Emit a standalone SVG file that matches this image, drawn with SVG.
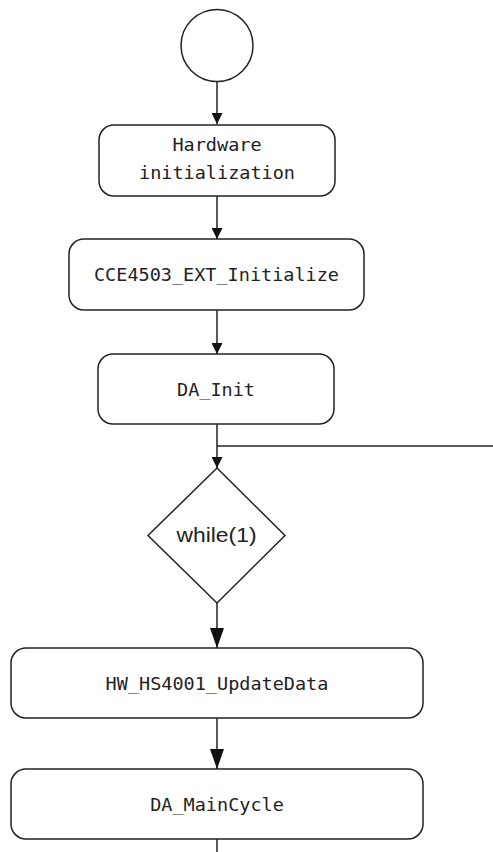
<svg xmlns="http://www.w3.org/2000/svg" width="493" height="852" viewBox="0 0 493 852">
<defs>
<style>
.box{fill:#fff;stroke:#222;stroke-width:1.5}
.ln{fill:none;stroke:#222;stroke-width:1.5}
.mono{font-family:"DejaVu Sans Mono","Liberation Mono",monospace;font-size:18.5px;fill:#222;text-anchor:middle}
.sans{font-family:"Liberation Sans","Noto Sans",sans-serif;font-size:20px;fill:#222;text-anchor:middle}
</style>
<marker id="a1" markerWidth="12" markerHeight="11" refX="12" refY="6" orient="auto" markerUnits="userSpaceOnUse" viewBox="0 0 12 12"><path d="M0,0 L12,6 L0,12 Z" fill="#111"/></marker>
<marker id="a2" markerWidth="20" markerHeight="14" refX="20" refY="7" orient="auto" markerUnits="userSpaceOnUse" viewBox="0 0 20 14"><path d="M0,0 L20,7 L0,14 Z" fill="#111"/></marker>
</defs>
<rect width="493" height="852" fill="#fff"/>
<g id="connectors">
<line class="ln" x1="217" y1="82" x2="217" y2="124" marker-end="url(#a1)"/>
<line class="ln" x1="217" y1="196" x2="217" y2="239" marker-end="url(#a1)"/>
<line class="ln" x1="217" y1="310" x2="217" y2="354" marker-end="url(#a1)"/>
<line class="ln" x1="217" y1="424" x2="217" y2="468" marker-end="url(#a1)"/>
<line class="ln" x1="217" y1="446" x2="493" y2="446"/>
<line class="ln" x1="217" y1="603" x2="217" y2="648" marker-end="url(#a2)"/>
<line class="ln" x1="217" y1="718" x2="217" y2="769" marker-end="url(#a2)"/>
<line class="ln" x1="217" y1="839" x2="217" y2="852"/>
</g>
<g id="start"><circle class="box" cx="217" cy="45.5" r="36"/></g>
<g id="hw_init">
<rect class="box" x="99" y="125" width="236" height="71" rx="15"/>
<text class="mono" x="217" y="151">Hardware</text>
<text class="mono" x="217" y="179">initialization</text>
</g>
<g id="cce">
<rect class="box" x="69" y="239" width="295" height="71" rx="15"/>
<text class="mono" x="216.5" y="281">CCE4503_EXT_Initialize</text>
</g>
<g id="da_init">
<rect class="box" x="98" y="354" width="236" height="70" rx="15"/>
<text class="mono" x="216" y="396">DA_Init</text>
</g>
<g id="while">
<polygon class="box" points="217,468 285,535.5 217,603 148,535.5"/>
<text class="sans" x="216.5" y="542" textLength="80" lengthAdjust="spacingAndGlyphs">while(1)</text>
</g>
<g id="hw_update">
<rect class="box" x="11" y="648" width="412" height="70" rx="15"/>
<text class="mono" x="217" y="690">HW_HS4001_UpdateData</text>
</g>
<g id="da_main">
<rect class="box" x="11" y="769" width="412" height="70" rx="15"/>
<text class="mono" x="217" y="811">DA_MainCycle</text>
</g>
</svg>
